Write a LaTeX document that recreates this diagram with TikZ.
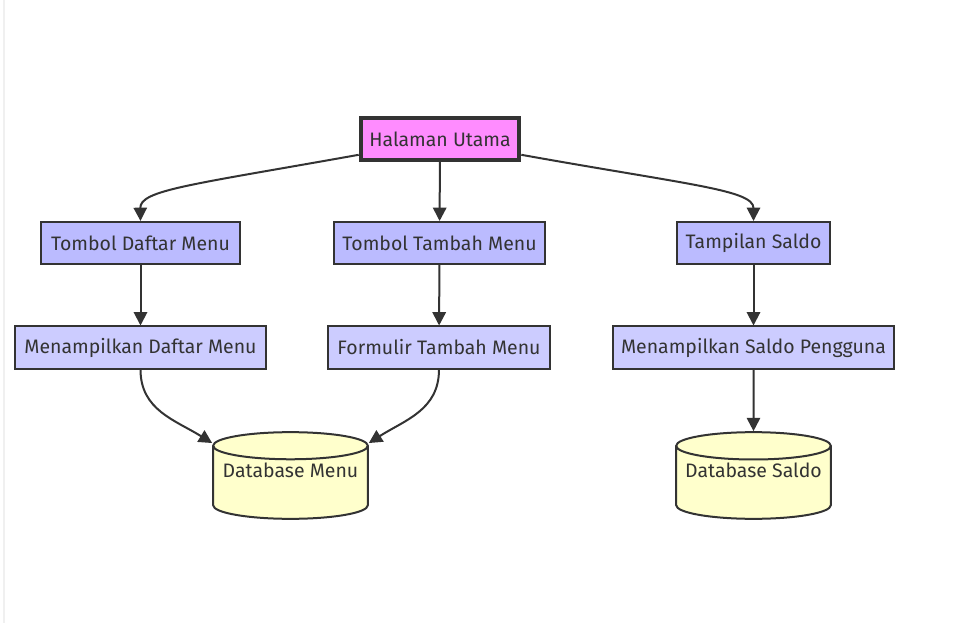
\documentclass[tikz,border=0pt]{standalone}
\usepackage{fontspec}
\setmainfont{Fira Sans}
\usepackage{tikz}
\usetikzlibrary{shapes.geometric,arrows.meta,calc}
\definecolor{edgegray}{HTML}{333333}
\definecolor{mainpink}{HTML}{FF8CFF}
\definecolor{btnblue}{HTML}{BBBBFF}
\definecolor{viewblue}{HTML}{CCCCFF}
\definecolor{dbyellow}{HTML}{FFFFCC}
\newcommand{\dbtext}[1]{\raisebox{4pt}[0pt][0pt]{#1}}
\tikzstyle{block} = [rectangle, draw=edgegray, line width=1.5pt, text=edgegray, minimum height=31.5pt, inner sep=0pt, font=\fontsize{14.6}{16}\selectfont]
\tikzstyle{db} = [cylinder, shape border rotate=90, aspect=0.2, draw=edgegray, line width=1.5pt, fill=dbyellow, text=edgegray, minimum width=116pt, minimum height=65pt, inner sep=0pt, anchor=shape center, font=\fontsize{14.6}{16}\selectfont]
\tikzstyle{line} = [draw=edgegray, line width=1.5pt, -{Triangle[length=10pt,width=10pt]}]

\begin{document}
\begin{tikzpicture}[x=0.75pt, y=-0.75pt]
    \useasboundingbox (0,0) rectangle (970,623);
    \draw [gray!12, line width=1.5pt] (4,0) -- (4,623);
    % Place nodes
    \node [block, fill=mainpink, line width=3pt, minimum width=119pt] (utama) at (440,139) {Halaman Utama};
    \node [block, fill=btnblue, minimum width=149pt] (tdaftar) at (140.5,243) {Tombol Daftar Menu};
    \node [block, fill=btnblue, minimum width=158pt] (ttambah) at (439.5,243) {Tombol Tambah Menu};
    \node [block, fill=btnblue, minimum width=115pt] (tsaldo) at (753.5,243) {Tampilan Saldo};
    \node [block, fill=viewblue, minimum width=188pt] (mdaftar) at (140.5,347.5) {Menampilkan Daftar Menu};
    \node [block, fill=viewblue, minimum width=166.5pt] (formulir) at (439,347.5) {Formulir Tambah Menu};
    \node [block, fill=viewblue, minimum width=211pt] (msaldo) at (753.5,347.5) {Menampilkan Saldo Pengguna};
    \node [db] (dbmenu) at (290.5,475.5) {\dbtext{Database Menu}};
    \node [db] (dbsaldo) at (753.5,475.5) {\dbtext{Database Saldo}};
    % Draw edges
    \path [line] (utama.191) .. controls (190,185) and (140,190) .. (tdaftar.north);
    \path [line] (utama) -- (ttambah);
    \path [line] (utama.349) .. controls (690,185) and (753.5,190) .. (tsaldo.north);
    \path [line] (tdaftar) -- (mdaftar);
    \path [line] (ttambah) -- (formulir);
    \path [line] (tsaldo) -- (msaldo);
    \path [line] (mdaftar.south) .. controls (140.5,410) and (175,420) .. ([yshift=2pt]dbmenu.before top);
    \path [line] (formulir.south) .. controls (439,410) and (405,420) .. ([yshift=2pt]dbmenu.after top);
    \path [line] (msaldo) -- (dbsaldo);
\end{tikzpicture}
\end{document}
